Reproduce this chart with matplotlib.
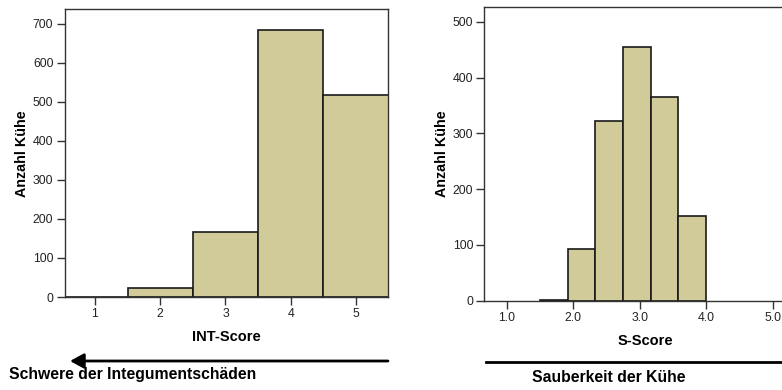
import matplotlib.pyplot as plt
from matplotlib.patches import FancyArrowPatch

plt.rcParams['font.family'] = ['Liberation Sans', 'DejaVu Sans']

# INT-Score (Integumentschäden)
int_scores = [1, 2, 3, 4, 5]
int_counts = [0, 22, 167, 683, 516]

# S-Score (Sauberkeit), Klassen von 1.5 bis 4.0
s_edges = [1.5, 1.917, 2.333, 2.75, 3.167, 3.583, 4.0]
s_counts = [2, 93, 323, 454, 366, 151]
s_ticks = [1.0, 2.0, 3.0, 4.0, 5.0]

fill = '#d0cb99'
edge = '#1a1a1a'

fig = plt.figure(figsize=(7.82, 3.9), dpi=100)

def style_axes(ax):
    for s in ax.spines.values():
        s.set_color('#333333')
        s.set_linewidth(1.0)
    ax.tick_params(labelsize=8.8, length=6, width=1, color='#333333', pad=2, labelcolor='#222222')

# linke Grafik
ax1 = fig.add_axes([64.5/782, 1-297/390, (388-64.5)/782, (297-9.5)/390])
ax1.bar(int_scores, int_counts, width=1.0, color=fill, edgecolor=edge, linewidth=1.2)
ax1.set_xlim(0.533, 5.49)
ax1.set_ylim(0, 736)
ax1.set_xticks(int_scores)
ax1.set_yticks(range(0, 701, 100))
ax1.set_xlabel('INT-Score', fontsize=10.5, fontweight='bold', labelpad=7)
ax1.set_ylabel('Anzahl Kühe', fontsize=10.3, fontweight='bold', labelpad=2.5)
style_axes(ax1)

# rechte Grafik
ax2 = fig.add_axes([484.3/782, 1-300.7/390, (5.5-0.663)*66.5/782, (300.7-6.7)/390])
widths = [s_edges[i+1]-s_edges[i] for i in range(len(s_counts))]
ax2.bar(s_edges[:-1], s_counts, width=widths, align='edge', color=fill, edgecolor=edge, linewidth=1.2)
ax2.set_xlim(0.663, 5.5)
ax2.set_ylim(0, 527)
ax2.set_xticks(s_ticks)
ax2.set_xticklabels(['%.1f' % t for t in s_ticks])
ax2.set_yticks(range(0, 501, 100))
ax2.set_xlabel('S-Score', fontsize=10.5, fontweight='bold', labelpad=7)
ax2.set_ylabel('Anzahl Kühe', fontsize=10.3, fontweight='bold', labelpad=2.5)
style_axes(ax2)

# Pfeil und Beschriftung unten links
arr = FancyArrowPatch((388/782, 1-361/390), (70/782, 1-361/390), transform=fig.transFigure,
                      arrowstyle='-|>,head_length=5.5,head_width=3', mutation_scale=1.5,
                      shrinkA=0, shrinkB=0, color='black', linewidth=2)
fig.patches.append(arr)
fig.text(9/782, 1-374/390, 'Schwere der Integumentschäden', fontsize=11.3, fontweight='bold',
         ha='left', va='center')

# Linie und Beschriftung unten rechts
fig.add_artist(plt.Line2D([485.7/782, 1.0], [1-362/390, 1-362/390], transform=fig.transFigure,
                          color='black', linewidth=2))
fig.text(609/782, 1-377/390, 'Sauberkeit der Kühe', fontsize=11.3, fontweight='bold',
         ha='center', va='center')

fig.savefig('out.png', dpi=100)
